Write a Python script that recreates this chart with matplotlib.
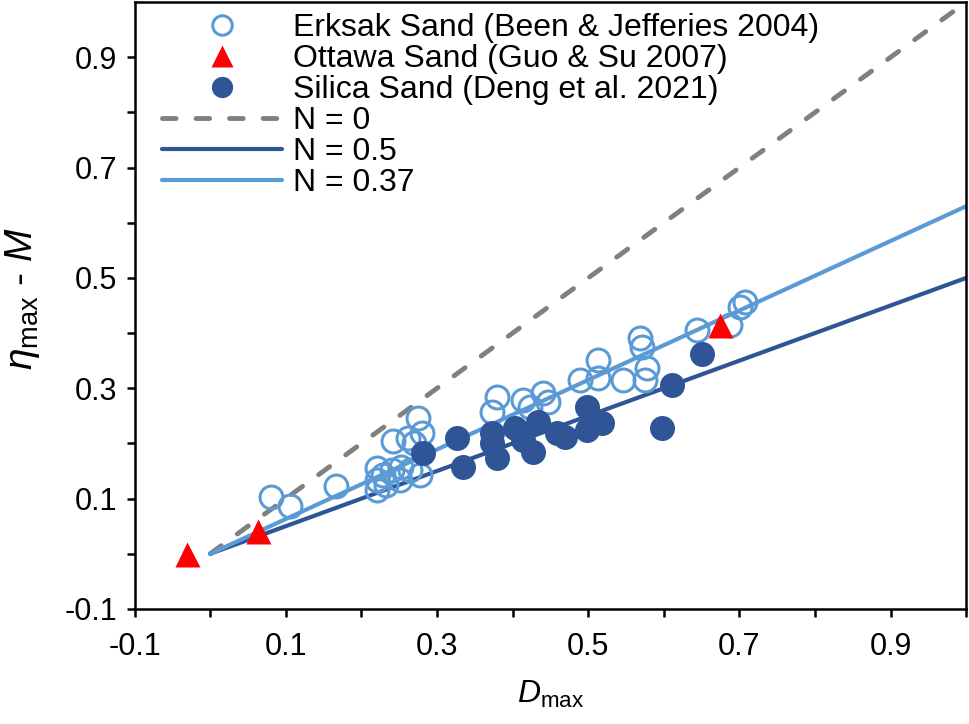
import numpy as np
import matplotlib
matplotlib.use('Agg')
import matplotlib.pyplot as plt
from matplotlib.ticker import FixedLocator

plt.rcParams['font.family'] = ['Liberation Sans', 'DejaVu Sans']
plt.rcParams['mathtext.fontset'] = 'custom'
plt.rcParams['mathtext.rm'] = 'Liberation Sans'
plt.rcParams['mathtext.it'] = 'Liberation Sans:italic'

# Erksak Sand (Been & Jefferies 2004)
erksak_d = [0.080, 0.106, 0.166, 0.220, 0.220, 0.220, 0.228, 0.242, 0.240, 0.253,
            0.251, 0.261, 0.275, 0.280, 0.264, 0.277, 0.233, 0.270,
            0.379, 0.373, 0.414, 0.440, 0.447, 0.423, 0.489, 0.513, 0.513,
            0.546, 0.568, 0.571, 0.578, 0.575, 0.644, 0.688, 0.701, 0.707]
erksak_eta = [0.103, 0.087, 0.123, 0.155, 0.134, 0.116, 0.143, 0.204, 0.152, 0.157,
              0.134, 0.210, 0.246, 0.219, 0.152, 0.143, 0.125, 0.200,
              0.284, 0.257, 0.279, 0.291, 0.275, 0.266, 0.315, 0.351, 0.318,
              0.315, 0.391, 0.375, 0.337, 0.315, 0.405, 0.414, 0.448, 0.456]

# Ottawa Sand (Guo & Su 2007)
ottawa_d = [-0.031, 0.063, 0.674]
ottawa_eta = [0.0, 0.041, 0.414]

# Silica Sand (Deng et al. 2021)
silica_d = [0.281, 0.326, 0.334, 0.373, 0.373, 0.379, 0.403, 0.414, 0.427, 0.433,
            0.459, 0.469, 0.498, 0.498, 0.518, 0.598, 0.611, 0.651]
silica_eta = [0.183, 0.210, 0.157, 0.219, 0.201, 0.174, 0.228, 0.206, 0.184, 0.239,
              0.219, 0.212, 0.266, 0.224, 0.237, 0.228, 0.306, 0.362]

# model lines: eta_max - M = (1 - N) * D_max
n_values = [0, 0.5, 0.37]
line_d = np.array([0.0, 1.0])

major_ticks = [-0.1, 0.1, 0.3, 0.5, 0.7, 0.9]
minor_ticks = [0.0, 0.2, 0.4, 0.6, 0.8]

light_blue = '#5B9BD5'
dark_blue = '#2F5597'

fig = plt.figure(figsize=(9.69, 7.24), dpi=100)
ax = fig.add_axes([0.139, 0.159, 0.858, 0.838])

ax.plot(erksak_d, erksak_eta, 'o', ms=16.5, mfc='none', mec=light_blue, mew=2.2,
        label='Erksak Sand (Been & Jefferies 2004)', zorder=3)
ax.plot(ottawa_d, ottawa_eta, '^', ms=18, color='#FF0000', mec='none',
        label='Ottawa Sand (Guo & Su 2007)', zorder=5)
ax.plot(silica_d, silica_eta, 'o', ms=18, color=dark_blue, mec='none',
        label='Silica Sand (Deng et al. 2021)', zorder=4)

ax.plot(line_d, (1 - n_values[0]) * line_d, '--', color='#808080', lw=3.5,
        dashes=(2.8, 4.1), dash_capstyle='round', label='N = 0', zorder=2)
ax.plot(line_d, (1 - n_values[1]) * line_d, '-', color=dark_blue, lw=3,
        solid_capstyle='round', label='N = 0.5', zorder=2)
ax.plot(line_d, (1 - n_values[2]) * line_d, '-', color=light_blue, lw=3,
        solid_capstyle='round', label='N = 0.37', zorder=2)

ax.set_xlim(-0.1, 1.0)
ax.set_ylim(-0.1, 1.0)
ax.xaxis.set_major_locator(FixedLocator(major_ticks))
ax.yaxis.set_major_locator(FixedLocator(major_ticks))
ax.xaxis.set_minor_locator(FixedLocator(minor_ticks + [1.0]))
ax.yaxis.set_minor_locator(FixedLocator(minor_ticks))
ax.xaxis.set_major_formatter(plt.FuncFormatter(lambda v, p: f'{v:.1f}'))
ax.yaxis.set_major_formatter(plt.FuncFormatter(lambda v, p: f'{v:.1f}'))

ax.tick_params(which='both', direction='out', length=5.8, width=1.8, top=False, right=False)
ax.tick_params(axis='x', labelsize=22, pad=11)
ax.tick_params(axis='y', labelsize=22, pad=7)
for s in ax.spines.values():
    s.set_linewidth(1.8)

ax.set_xlabel(r'$D_{\mathrm{max}}$', fontsize=23, labelpad=12)
ax.set_ylabel(r'$\eta_{\mathrm{max}}$ - $M$', fontsize=28)
ax.yaxis.set_label_coords(-0.112, 0.512)

ax.legend(loc='upper left', bbox_to_anchor=(0.017, 1.003), frameon=False, fontsize=23,
          handlelength=3.76, handletextpad=0.35, labelspacing=0.03, borderaxespad=0.0,
          markerscale=0.85)

fig.savefig('out.png', dpi=100)
